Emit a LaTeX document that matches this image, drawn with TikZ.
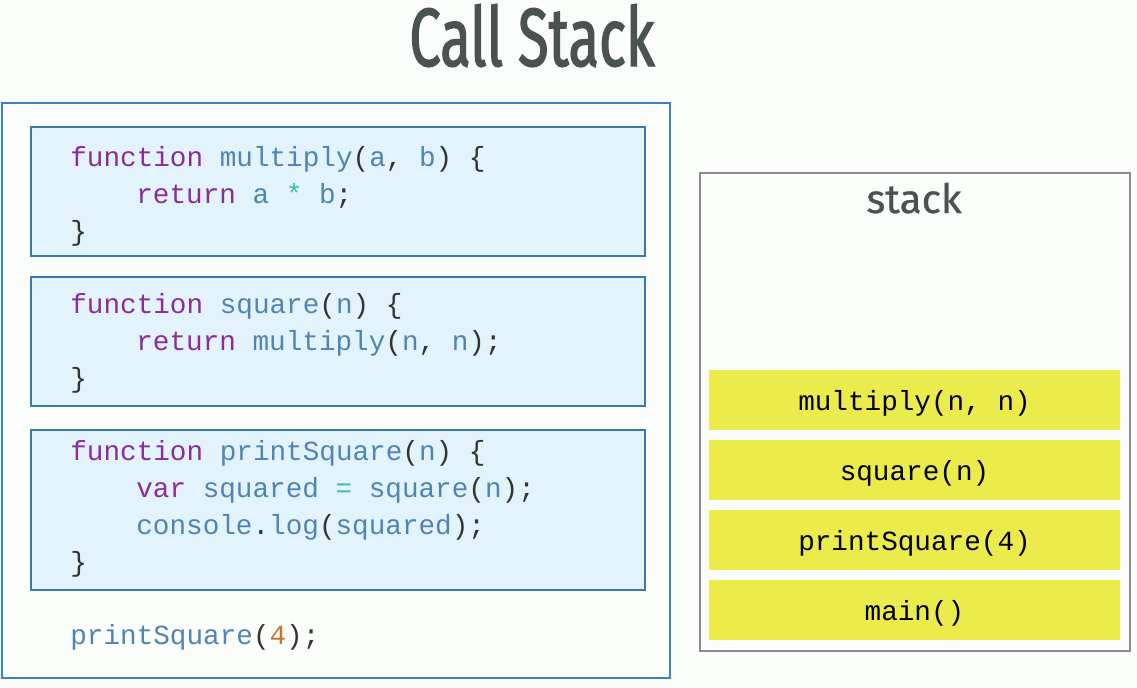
\documentclass[tikz,border=0pt]{standalone}
\usepackage{fontspec}
\setmainfont{Fira Sans}
\setmonofont{Liberation Mono}
\newfontfamily\titlefont[FakeStretch=0.68,FakeBold=1.5]{Fira Sans}
\newfontfamily\labelfont[FakeBold=0.6]{Fira Sans}
\definecolor{bgwhite}{HTML}{FBFDFB}
\definecolor{frameblue}{HTML}{3F7FBC}
\definecolor{codefill}{HTML}{E3F3FB}
\definecolor{codeline}{HTML}{3A78B0}
\definecolor{kwpurple}{HTML}{8C2C9C}
\definecolor{idblue}{HTML}{4F84B3}
\definecolor{opteal}{HTML}{3CC0A4}
\definecolor{numorange}{HTML}{C8732A}
\definecolor{codedark}{HTML}{333333}
\definecolor{titlegray}{HTML}{4A5252}
\definecolor{stackgray}{HTML}{8C8C8C}
\definecolor{frameyellow}{HTML}{EBEB4C}
\newcommand{\ckw}[1]{\textcolor{kwpurple}{#1}}
\newcommand{\cid}[1]{\textcolor{idblue}{#1}}
\newcommand{\cop}[1]{\textcolor{opteal}{#1}}
\newcommand{\cnum}[1]{\textcolor{numorange}{#1}}
\begin{document}
\begin{tikzpicture}[
    x=0.02cm, y=-0.02cm,
    codebox/.style={draw=codeline, line width=1.2pt, fill=codefill, minimum width=12.28cm, inner sep=0pt},
    code/.style={anchor=base west, inner sep=0pt, text=codedark, font=\fontsize{15.75}{18}\selectfont\ttfamily},
    frame/.style={fill=frameyellow, minimum width=8.22cm, minimum height=1.2cm, inner sep=0pt, text height=13.4pt, text depth=1pt, text=black, font=\fontsize{15.75}{18}\selectfont\ttfamily}
  ]
    \fill[bgwhite] (0,0) rectangle (1137,687);
    \useasboundingbox (0,0) rectangle (1137,687);

    \node[font=\titlefont\fontsize{47}{50}\selectfont, text=titlegray, anchor=base] (title) at (532,66) {Call Stack};

    % source code
    \node[draw=frameblue, line width=1.2pt, minimum width=13.36cm, minimum height=11.5cm, inner sep=0pt] (src) at (336,390.5) {};
    \node[codebox, minimum height=2.58cm] (box1) at (338,191.5) {};
    \node[codebox, minimum height=2.58cm] (box2) at (338,341.5) {};
    \node[codebox, minimum height=3.2cm]  (box3) at (338,510) {};

    \node[code] (l1) at (70,166)  {\ckw{function} \cid{multiply}(\cid{a}, \cid{b}) \{};
    \node[code] (l2) at (136,203) {\ckw{return} \cid{a} \cop{*} \cid{b};};
    \node[code] (l3) at (70,240)  {\}};

    \node[code] (l4) at (70,313)  {\ckw{function} \cid{square}(\cid{n}) \{};
    \node[code] (l5) at (136,350) {\ckw{return} \cid{multiply}(\cid{n}, \cid{n});};
    \node[code] (l6) at (70,387)  {\}};

    \node[code] (l7) at (70,460)   {\ckw{function} \cid{printSquare}(\cid{n}) \{};
    \node[code] (l8) at (136,497)  {\ckw{var} \cid{squared} \cop{=} \cid{square}(\cid{n});};
    \node[code] (l9) at (136,534)  {\cid{console}.\cid{log}(\cid{squared});};
    \node[code] (l10) at (70,571)  {\}};

    \node[code] (call) at (70,644) {\cid{printSquare}(\cnum{4});};

    % stack
    \node[draw=stackgray, line width=1.2pt, minimum width=8.6cm, minimum height=9.56cm, inner sep=0pt] (stack) at (915,412) {};
    \node[font=\labelfont\fontsize{23}{25}\selectfont, text=titlegray, anchor=base] (stacklbl) at (914,213) {stack};

    \node[frame] (f1) at (914.5,400) {multiply(n, n)};
    \node[frame] (f2) at (914.5,470) {square(n)};
    \node[frame] (f3) at (914.5,540) {printSquare(4)};
    \node[frame] (f4) at (914.5,610) {main()};
  \end{tikzpicture}
\end{document}
